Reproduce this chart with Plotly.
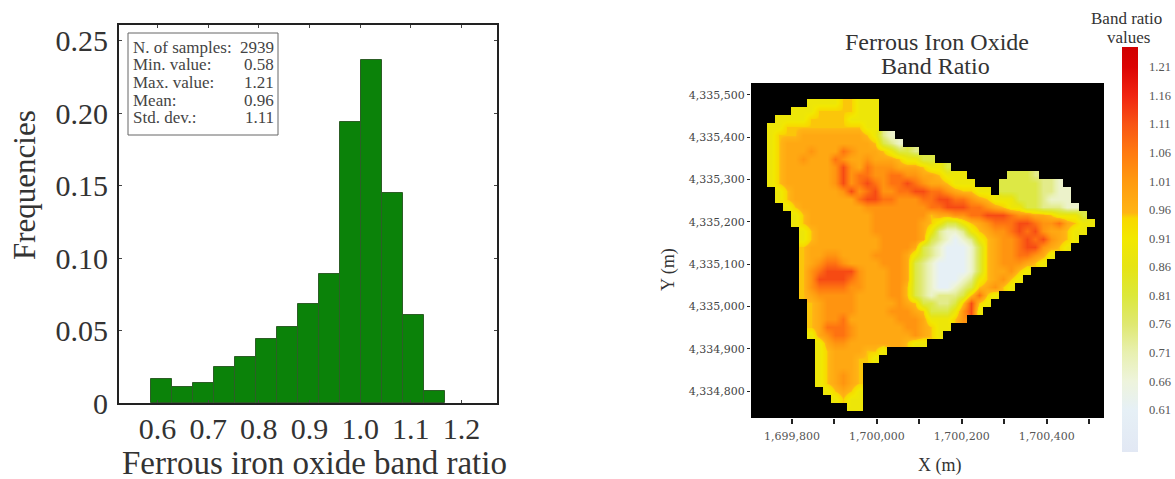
import plotly.graph_objects as go

W, H = 1175, 479

# ---- histogram data ----
bin_start = 0.587
bin_width = 0.0414
frequencies = [0.0163, 0.011, 0.0138, 0.0248, 0.032, 0.0442, 0.0525, 0.068,
               0.089, 0.1935, 0.2365, 0.145, 0.0605, 0.008]
hist_xticks = [0.6, 0.7, 0.8, 0.9, 1.0, 1.1, 1.2]
hist_xticktext = ["0.6", "0.7", "0.8", "0.9", "1.0", "1.1", "1.2"]
hist_yticks = [0, 0.05, 0.10, 0.15, 0.20, 0.25]
hist_yticktext = ["0", "0.05", "0.10", "0.15", "0.20", "0.25"]
stat_names = ["N. of samples:", "Min. value:", "Max. value:", "Mean:", "Std. dev.:"]
stat_values = ["2939", "0.58", "1.21", "0.96", "1.11"]

# ---- map data: each letter is a band-ratio class, "." is outside the area ----
level_values = {"a": 0.61, "b": 0.68, "c": 0.74, "d": 0.80, "e": 0.89,
                "f": 0.95, "g": 0.98, "h": 1.02, "i": 1.07, "j": 1.12}
map_rows = [
    "",
    "",
    ".......eeeeffeee",
    ".....eeefffffeee",
    "...eeeefffffeeee",
    "..eeffffffffffee",
    "..efffggggggggfecb",
    "..efgggggggggggfdcb",
    "..efggghgggihgggfeddc",
    "..efgghgggihgghgggfeedd",
    "..efgggggghjhgihhhgggfeed",
    "..efgggggghjhiihhiihhggfeee.....dddc",
    "..efgggggghjhijihiijihggfeee...dddddccb",
    "...efgggggghjhijhhiijjiihgffee.dddddccbb",
    "...efggggggggijjiihhhiijjiihgfeeedddcbbb",
    "....efgggggggghhhhhhhhiijjjiihgfeeddcccbb",
    ".....efgggggggghhhhhhhfgghhiijjjihhggfeeed",
    ".....efgggggggghhhhhhgfeddefghiiijjihhigfee",
    "......efggggggghhhhhhgecbbcefghhijijhggfee",
    "......efgggggggghhhhhgdcbabcefghhijijhgfe",
    "......fggggggggghhhhgdcbaaabdfghhijjhgfe",
    "......fgghhgggghhhhgedcbaaabdfghhiihge",
    "......fghiihgggghhhgdcbaaaabdfghhhgfe",
    "......fhijjjjhggghhgdcbaaaabdfgghfe",
    "......fhjjjjihggghhgdcbaaabcefghfe",
    "......fhiiiihhggghhfdcbaabcdfghfe",
    "......fghhhhhgggghhfdcbcccdfife",
    ".......fghhhhggggghgfddccdfjfe",
    ".......fghhhhgggghhhgfdddehje",
    ".......fghhigggggghhhgeeefh",
    ".......fgiiihgggggghhgfee",
    ".......eghiihggggggghgfe",
    "........eghhgggggggfee",
    "........efggggffe",
    "........efgggffe",
    "........efgggf",
    "........efghgf",
    "........efghgf",
    ".........efgfe",
    "..........efee",
    "............ee",
    "",
]
map_xticks = [1699800, 1699900, 1700000, 1700100, 1700200, 1700300, 1700400, 1700500]
map_xticktext = ["1,699,800", "", "1,700,000", "", "1,700,200", "", "1,700,400", ""]
map_yticks = [4335500, 4335400, 4335300, 4335200, 4335100, 4335000, 4334900, 4334800]
map_yticktext = ["4,335,500", "4,335,400", "4,335,300", "4,335,200",
                 "4,335,100", "4,335,000", "4,334,900", "4,334,800"]
cbar_ticks = [1.21, 1.16, 1.11, 1.06, 1.01, 0.96, 0.91, 0.86, 0.81, 0.76, 0.71, 0.66, 0.61]
cbar_min, cbar_max = 0.536, 1.245
cbar_colors = [(0.536, "#e2e8f4"), (0.61, "#e6f0f6"), (0.66, "#eef4dc"), (0.71, "#e8f0b0"),
               (0.76, "#dfe870"), (0.81, "#dce83a"), (0.86, "#e6e414"), (0.91, "#f2e800"),
               (0.945, "#f8d800"), (0.955, "#ffb414"), (1.01, "#ff9a10"), (1.06, "#ff7a10"),
               (1.11, "#f85414"), (1.16, "#f02410"), (1.21, "#dc0404"), (1.245, "#d00000")]

ncols = 44
z = [[level_values.get(ch) for ch in row.ljust(ncols, ".")] for row in map_rows]
scale = [[(v - cbar_min) / (cbar_max - cbar_min), c] for v, c in cbar_colors]

SERIF = "Liberation Serif"
fig = go.Figure()
fig.add_bar(
    x=[bin_start + bin_width * (i + 0.5) for i in range(len(frequencies))],
    y=frequencies, width=bin_width,
    marker=dict(color="#0b8209", line=dict(color="#2c5e26", width=1)),
    xaxis="x", yaxis="y", showlegend=False,
)
fig.add_heatmap(
    z=z, x0=1699712.9, dx=18.82, y0=4335518.1, dy=-18.88, zsmooth="best",
    colorscale=scale, zmin=cbar_min, zmax=cbar_max, xaxis="x2", yaxis="y2",
    hoverongaps=False,
    colorbar=dict(
        x=1122 / W, xanchor="left", y=1 - 47 / H, yanchor="top", xpad=0, ypad=0,
        lenmode="pixels", len=405, thicknessmode="pixels", thickness=16,
        outlinewidth=0, tickvals=cbar_ticks, ticktext=[f"{v:.2f}" for v in cbar_ticks],
        ticks="outside", ticklen=9, tickcolor="rgba(255,255,255,0)",
        tickfont=dict(family=SERIF, size=12.5, color="#555555"),
    ),
)


def px(x):
    return x / W


def py(y):
    return 1 - y / H


axis_line = dict(showline=True, linecolor="#222222", linewidth=2, showgrid=False, zeroline=False)
fig.update_layout(
    width=W, height=H, margin=dict(l=0, r=0, t=0, b=0, autoexpand=False),
    paper_bgcolor="white", plot_bgcolor="white", font=dict(family=SERIF, color="#333333"),
    bargap=0,
    xaxis=dict(domain=[px(119), px(497)], range=[0.524, 1.27], anchor="y",
               tickvals=hist_xticks, ticktext=hist_xticktext, ticks="inside", ticklen=3,
               mirror="ticks", ticklabelstandoff=-2, tickfont=dict(size=30), **axis_line),
    yaxis=dict(domain=[py(403), py(25)], range=[0, 0.2607], anchor="x",
               tickvals=hist_yticks, ticktext=hist_yticktext, ticks="inside", ticklen=3,
               mirror="ticks", ticklabelstandoff=3, tickfont=dict(size=30), **axis_line),
    xaxis2=dict(domain=[px(751), px(1104)], range=[1699703.5, 1700535], anchor="y2",
                tickvals=map_xticks, ticktext=map_xticktext, ticks="outside", ticklen=5,
                tickwidth=2, tickcolor="#222222", showgrid=False, zeroline=False,
                ticklabelstandoff=3,
                tickfont=dict(family="DejaVu Serif", size=11, color="#555555")),
    yaxis2=dict(domain=[py(418), py(83)], range=[4334737, 4335527.5], anchor="x2",
                tickvals=map_yticks, ticktext=map_yticktext, ticks="outside", ticklen=3,
                tickwidth=1, tickcolor="#222222", showgrid=False, zeroline=False,
                tickfont=dict(family="DejaVu Serif", size=11, color="#444444")),
)
fig.add_shape(type="rect", xref="x2 domain", yref="y2 domain", x0=0, x1=1, y0=0, y1=1,
              fillcolor="black", line_width=0, layer="below")
fig.add_shape(type="rect", xref="paper", yref="paper", x0=px(128), x1=px(278), y0=py(135), y1=py(33),
              line=dict(color="#666666", width=1), fillcolor="white")


def note(text, x, y, size, anchor="center", color="#333333", angle=0):
    fig.add_annotation(text=text, xref="paper", yref="paper", x=px(x), y=py(y), showarrow=False,
                       xanchor=anchor, yanchor="middle", textangle=angle,
                       font=dict(family=SERIF, size=size, color=color))


for i, (name, val) in enumerate(zip(stat_names, stat_values)):
    note(name, 131, 47 + 17.7 * i, 17, "left", "#444444")
    note(val, 276, 47 + 17.7 * i, 17, "right", "#444444")

note("Frequencies", 24, 185, 31, angle=-90)
note("Ferrous iron oxide band ratio", 314, 463, 33)
note("Ferrous Iron Oxide", 937, 42, 24)
note("Band Ratio", 935, 66, 24)
note("Y (m)", 668, 270, 18, angle=-90)
note("X (m)", 940, 465, 18)
note("Band ratio", 1126, 18, 17)
note("values", 1128, 37, 17)

fig.write_html("out.html", config=dict(displayModeBar=False),
               post_script="document.body.style.margin='0';")
